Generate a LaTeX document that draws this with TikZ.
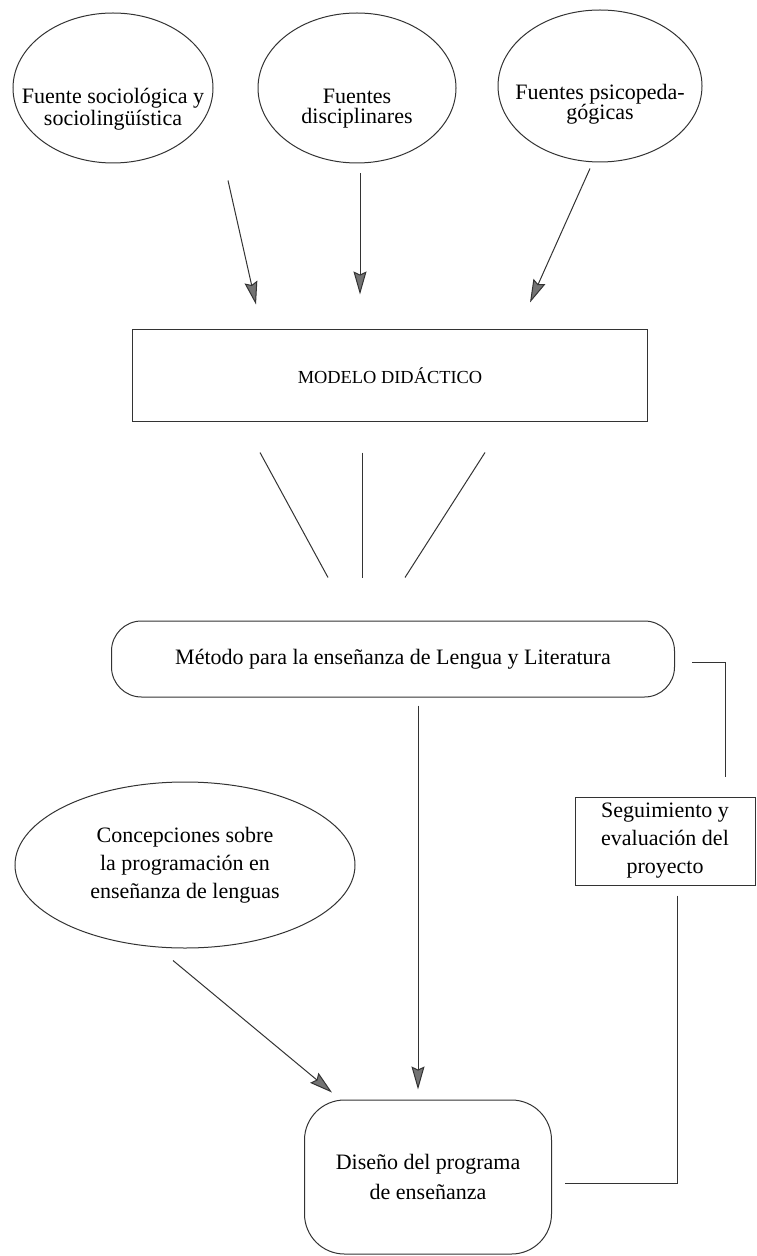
\documentclass[tikz,border=0pt]{standalone}
\usepackage{fontspec}
\setmainfont{Liberation Serif}
\usetikzlibrary{arrows.meta,shapes.geometric}

\begin{document}
\begin{tikzpicture}[x=0.5pt,y=-0.5pt,line width=0.5pt,color=black!80,
                    >={Stealth[length=11.5pt,width=6.5pt,inset=1.5pt,fill=black!55]},
                    every node/.style={text=black,align=center},
                    font=\fontsize{11}{14}\selectfont]

  \tikzstyle{fuente}=[draw,ellipse,inner sep=0pt,minimum width=100pt,
                      minimum height=75pt]
  \tikzstyle{texto}=[font=\fontsize{11}{10}\selectfont,yshift=-10.5pt]
  \tikzstyle{caja}=[draw,rectangle,inner sep=2pt]
  \tikzstyle{redonda}=[draw,rectangle,rounded corners=#1]

  \useasboundingbox (0,0) rectangle (756,1256);

  \node[fuente,label={[texto]center:Fuente sociológica y\\sociolingüística}]
                                                          (fsoc)   at (113,88)   {};
  \node[fuente,minimum width=99pt,
        label={[texto]center:Fuentes\\disciplinares}]    (fdis)   at (357,88)   {};
  \node[fuente,minimum width=102pt,minimum height=76pt,
        label={[texto,yshift=1.5pt]center:Fuentes psicopeda-\\gógicas}]
                                                          (fpsi)   at (600,86)   {};
  \node[caja,minimum width=257.5pt,minimum height=46pt,
        font=\fontsize{9.2}{11}\selectfont]               (modelo) at (390,376)  {MODELO DIDÁCTICO};
  \node[redonda=15pt,minimum width=281.5pt,
        minimum height=38pt]                              (metodo) at (393,659)  {Método para la enseñanza de Lengua y Literatura};
  \node[fuente,minimum width=170pt,minimum height=83pt,
        label={center:Concepciones sobre\\la programación en\\enseñanza de lenguas}]
                                                          (concep) at (185,865)  {};
  \node[caja,minimum width=90pt,minimum height=44pt]      (segui)  at (665,841)  {Seguimiento y\\evaluación del\\proyecto};
  \node[redonda=20pt,minimum width=123.5pt,minimum height=77pt,
        font=\fontsize{11}{15}\selectfont]                (diseno) at (428,1177) {Diseño del programa\\de enseñanza};

  % fuentes -> modelo
  \path[->] ([shift={(115,17)}]fsoc.south) edge ([shift={(124,-25)}]modelo.north west)
            ([shift={(3,10)}]fdis.south)   edge ([shift={(-30,-35)}]modelo.north)
            ([shift={(-10,6)}]fpsi.south)  edge ([shift={(-118,-27)}]modelo.north east);

  % modelo -> metodo
  \path ([shift={(-130,30)}]modelo.south) edge ([shift={(-65,-43)}]metodo.north)
        ([shift={(-28,30)}]modelo.south)  edge ([shift={(-31,-43)}]metodo.north)
        ([shift={(95,30)}]modelo.south)   edge ([shift={(12,-43)}]metodo.north);

  % hacia el diseno
  \path[->] ([shift={(25,8)}]metodo.south)   edge ([shift={(-10,-10)}]diseno.north)
            ([shift={(-12,12)}]concep.south) edge ([shift={(28,-7)}]diseno.north west);

  % seguimiento
  \draw ([shift={(17,3)}]metodo.east) -| ([shift={(60,-20)}]segui.north);
  \draw ([shift={(12,10)}]segui.south) |- ([shift={(13,6)}]diseno.east);
\end{tikzpicture}
\end{document}
